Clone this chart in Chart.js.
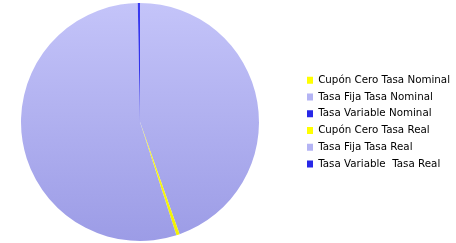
<!DOCTYPE html>
<html>
<head>
<meta charset="utf-8">
<script src="https://cdn.jsdelivr.net/npm/chart.js@4"></script>
<style>
html,body{margin:0;padding:0;background:#fff;}
#wrap{width:456px;height:243px;position:relative;}
</style>
</head>
<body>
<div id="wrap"><canvas id="c" width="456" height="243"></canvas></div>
<script>
const categories = [
  "Cupón Cero Tasa Nominal",
  "Tasa Fija Tasa Nominal",
  "Tasa Variable Nominal",
  "Cupón Cero Tasa Real",
  "Tasa Fija Tasa Real",
  "Tasa Variable  Tasa Real"
];
const values = [0, 44.6, 0, 0.45, 54.65, 0.3];
const kinds = ["yellow", "lilac", "blue", "yellow", "lilac", "blue"];

const solid = {yellow: "#ffff00", lilac: "#b4b4f4", blue: "#2828e8"};

function fill(ctx) {
  const kind = kinds[ctx.dataIndex];
  const chart = ctx.chart;
  const area = chart.chartArea;
  if (!area) return solid[kind];
  const g = chart.ctx.createLinearGradient(0, area.top, 0, area.bottom);
  if (kind === "lilac") {
    g.addColorStop(0, "#c4c4f9");
    g.addColorStop(1, "#9c9ce6");
  } else if (kind === "yellow") {
    g.addColorStop(0, "#ffff33");
    g.addColorStop(1, "#f2f200");
  } else {
    g.addColorStop(0, "#3a3af0");
    g.addColorStop(1, "#1c1cd8");
  }
  return g;
}

// layout tweak: pie area spans x 0..280, legend column starts with box at x=307
const layoutTweak = {
  id: "layoutTweak",
  afterLayout(chart) {
    const ca = chart.chartArea;
    ca.right = 280;
    ca.width = ca.right - ca.left;
    const lg = chart.legend;
    if (!lg) return;
    const pad = chart.options.plugins.legend.labels.padding;
    const d = 307 - pad - lg.left;
    lg.left += d;
    lg.right += d;
    if (lg.legendHitBoxes) lg.legendHitBoxes.forEach(h => { h.left += d; });
  }
};

new Chart(document.getElementById("c"), {
  type: "pie",
  data: {
    labels: categories,
    datasets: [{
      data: values,
      backgroundColor: fill,
      borderWidth: 0
    }]
  },
  options: {
    responsive: false,
    animation: false,
    layout: {padding: {top: 3, bottom: 2, left: 0, right: 0}},
    plugins: {
      tooltip: {enabled: false},
      legend: {
        position: "right",
        labels: {
          boxWidth: 6,
          boxHeight: 7,
          padding: 6.45,
          color: "#3e3e4c",
          font: {family: "DejaVu Sans", size: 10.3},
          generateLabels(chart) {
            return categories.map((t, i) => ({
              text: t,
              fillStyle: kinds[i] === "lilac" ? "#b4b4f4" : solid[kinds[i]],
              strokeStyle: "rgba(0,0,0,0)",
              lineWidth: 0,
              hidden: false,
              index: i
            }));
          }
        }
      }
    }
  },
  plugins: [layoutTweak]
});
</script>
</body>
</html>
